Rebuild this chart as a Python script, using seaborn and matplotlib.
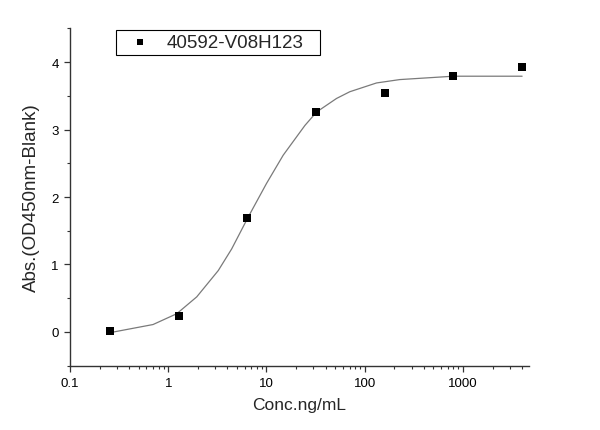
import matplotlib
matplotlib.use('Agg')
import matplotlib.pyplot as plt
import matplotlib.ticker as mticker
import seaborn as sns
import pandas as pd

# measured points
conc = [0.256, 1.28, 6.4, 32, 160, 800, 4000]
absorb = [0.02, 0.23, 1.69, 3.26, 3.54, 3.80, 3.92]

# fitted curve
fit_conc = [0.256, 0.70, 1.22, 1.95, 3.23, 4.42, 6.5, 10.0, 14.8, 24.6, 32.4,
            51.6, 70.5, 131.8, 227, 800, 4000]
fit_abs = [-0.01, 0.11, 0.27, 0.52, 0.91, 1.23, 1.70, 2.20, 2.62, 3.06, 3.26,
           3.46, 3.56, 3.69, 3.74, 3.79, 3.79]

series_name = '40592-V08H123'

sns.set_style('ticks')
plt.rcParams['font.family'] = ['Liberation Sans', 'DejaVu Sans']

df = pd.DataFrame({'conc': conc, 'abs': absorb})
fit = pd.DataFrame({'conc': fit_conc, 'abs': fit_abs})

fig = plt.figure(figsize=(6, 4.31), dpi=100)
ax = fig.add_axes([70 / 600, 1 - 366.7 / 431, (529 - 70) / 600, (366.7 - 29.3) / 431])

sns.lineplot(data=fit, x='conc', y='abs', ax=ax, color='#7a7a7a', linewidth=0.9,
             sort=False, estimator=None)
sns.scatterplot(data=df, x='conc', y='abs', ax=ax, marker='s', color='black',
                s=36, edgecolor='black', linewidth=0, label=series_name, zorder=3)

ax.set_xscale('log')
ax.set_xlim(0.1, 4700)
ax.set_ylim(-0.5, 4.5)
ax.xaxis.set_major_locator(mticker.LogLocator(base=10))
ax.xaxis.set_major_formatter(mticker.FuncFormatter(lambda v, p: f'{v:g}'))
ax.xaxis.set_minor_locator(mticker.LogLocator(base=10, subs=range(2, 10)))
ax.xaxis.set_minor_formatter(mticker.NullFormatter())
ax.yaxis.set_major_locator(mticker.MultipleLocator(1))
ax.yaxis.set_minor_locator(mticker.MultipleLocator(0.5))

sns.despine(ax=ax)
for s in ['left', 'bottom']:
    ax.spines[s].set_color('#333333')
    ax.spines[s].set_linewidth(1.0)
ax.tick_params(which='major', direction='out', length=4, width=0.9, colors='#333333',
               labelsize=9.5, labelcolor='black', pad=4)
ax.tick_params(which='minor', direction='out', length=2.5, width=0.8, colors='#333333')

ax.set_xlabel('Conc.ng/mL', fontsize=12.5, labelpad=6)
ax.set_ylabel('Abs.(OD450nm-Blank)', fontsize=13.5, labelpad=8)

# legend box spans x 115.7..320 px, y 31..54 px in the reference
leg = ax.legend(loc='upper left',
                bbox_to_anchor=(115.7 / 600, 1 - 54 / 431, (320 - 115.7) / 600, 23 / 431),
                bbox_transform=fig.transFigure, mode='expand', frameon=True,
                fancybox=False, edgecolor='black', framealpha=1, fontsize=13.5,
                markerscale=0.75, handlelength=2.2, handletextpad=0.33,
                borderpad=0.2, borderaxespad=0)
leg.get_frame().set_linewidth(0.8)

fig.savefig('out.png', dpi=100)
